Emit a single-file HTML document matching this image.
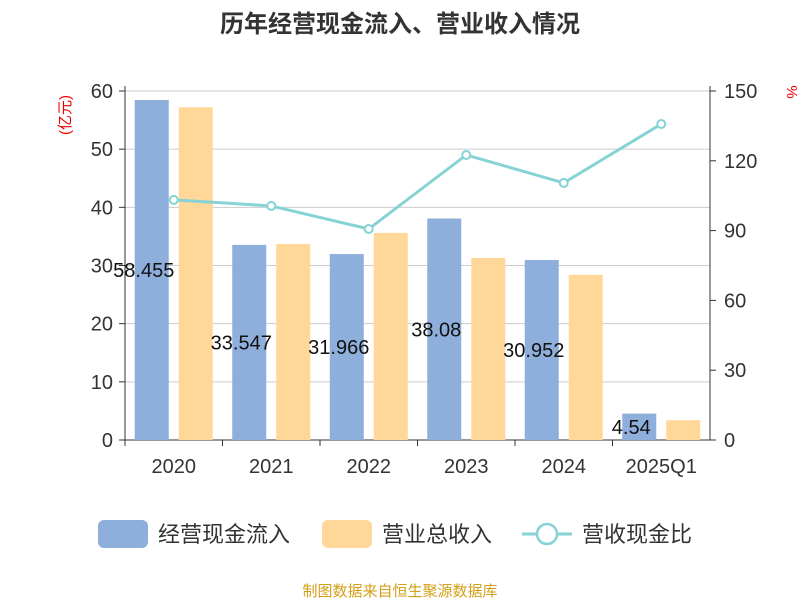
<!DOCTYPE html>
<html><head><meta charset="utf-8"><style>
body{margin:0;background:#fff;width:800px;height:600px;overflow:hidden;font-family:"Liberation Sans","Noto Sans CJK SC",sans-serif}
</style></head><body>
<svg id="c" width="800" height="600" xmlns="http://www.w3.org/2000/svg">
<text x="400" y="32" text-anchor="middle" font-size="24" font-weight="bold" fill="#333">历年经营现金流入、营业收入情况</text>
<text x="70" y="115" transform="rotate(-90 70 115)" text-anchor="middle" font-size="15" fill="#e00">(亿元)</text>
<text x="787" y="92" transform="rotate(90 787 92)" text-anchor="middle" font-size="15" fill="#e00">%</text>
<g id="grid"></g><g id="bars"></g><g id="line"></g><g id="axes"></g>
<g>
<rect x="98" y="520" width="50" height="28" rx="6" fill="#8eaedb"/>
<text x="158" y="542" font-size="22" fill="#333">经营现金流入</text>
<rect x="322" y="520" width="50" height="28" rx="6" fill="#ffd899"/>
<text x="382" y="542" font-size="22" fill="#333">营业总收入</text>
<line x1="522" y1="534" x2="572" y2="534" stroke="#86d3d6" stroke-width="3"/>
<circle cx="547" cy="534" r="10" fill="#fff" stroke="#86d3d6" stroke-width="2.5"/>
<text x="582" y="542" font-size="22" fill="#333">营收现金比</text>
</g>
<text x="400" y="596" text-anchor="middle" font-size="15" fill="#d4a017">制图数据来自恒生聚源数据库</text>
</svg>
<script>
const categories=["2020","2021","2022","2023","2024","2025Q1"];
const cashInflow=[58.455,33.547,31.966,38.08,30.952,4.54];
const revenue=[57.2,33.7,35.6,31.3,28.4,3.4];
const ratio=[103.2,100.6,90.7,122.5,110.5,135.8];
const leftTicks=[0,10,20,30,40,50,60];
const rightTicks=[0,30,60,90,120,150];
const NS="http://www.w3.org/2000/svg";
const X0=125,X1=710,Y0=440,Y1=91;
const bw=(X1-X0)/categories.length;
const yL=v=>Y0-(v/60)*(Y0-Y1);
const yR=v=>Y0-(v/150)*(Y0-Y1);
const xc=i=>X0+bw*(i+0.5);
function mk(t,a,p){const e=document.createElementNS(NS,t);for(const k in a)e.setAttribute(k,a[k]);p.appendChild(e);return e;}
const g=document.getElementById('grid'),b=document.getElementById('bars'),l=document.getElementById('line'),ax=document.getElementById('axes');
leftTicks.forEach(v=>{
 const ln=mk('line',{x1:X0,x2:X1,y1:yL(v),y2:yL(v),stroke:v?'#ccc':'#333','stroke-width':1},g);
 
 
 mk('line',{x1:X0-6,x2:X0,y1:yL(v),y2:yL(v),stroke:'#333'},ax);
 const t=mk('text',{x:X0-12,y:yL(v)+7,'text-anchor':'end','font-size':20,fill:'#333'},ax);t.textContent=v;
 
 
});
rightTicks.forEach(v=>{
 mk('line',{x1:X1,x2:X1+6,y1:yR(v),y2:yR(v),stroke:'#333'},ax);
 const t=mk('text',{x:X1+14,y:yR(v)+7,'font-size':20,fill:'#333'},ax);t.textContent=v;
 
 
});
mk('line',{x1:X0,x2:X0,y1:Y1-5,y2:Y0,stroke:'#333'},ax);
mk('line',{x1:X1,x2:X1,y1:Y1-5,y2:Y0,stroke:'#333'},ax);
categories.forEach((c,i)=>{
 mk('line',{x1:X0+bw*i,x2:X0+bw*i,y1:Y0,y2:Y0+6,stroke:'#333'},ax);
 const t=mk('text',{x:xc(i),y:Y0+33,'text-anchor':'middle','font-size':20,fill:'#333'},ax);t.textContent=c;
 
 
 const r1=mk('rect',{x:xc(i)-39,y:yL(cashInflow[i]),width:34,height:Y0-yL(cashInflow[i]),fill:'#8eaedb'},b);
 
 
 const lb=mk('text',{x:xc(i)-30,y:(yL(cashInflow[i])+Y0)/2+7,'text-anchor':'middle','font-size':20,fill:'#111'},b);lb.textContent=cashInflow[i];
 
 
 const r2=mk('rect',{x:xc(i)+5,y:yL(revenue[i]),width:34,height:Y0-yL(revenue[i]),fill:'#ffd899'},b);
 
 
});
const pl=mk('polyline',{points:ratio.map((v,i)=>xc(i)+','+yR(v)).join(' '),fill:'none',stroke:'#86d3d6','stroke-width':3},l);


ratio.forEach((v,i)=>{
 const p=mk('circle',{cx:xc(i),cy:yR(v),r:4,fill:'#fff',stroke:'#86d3d6','stroke-width':2},l);
 
 
});
</script>
</body></html>
